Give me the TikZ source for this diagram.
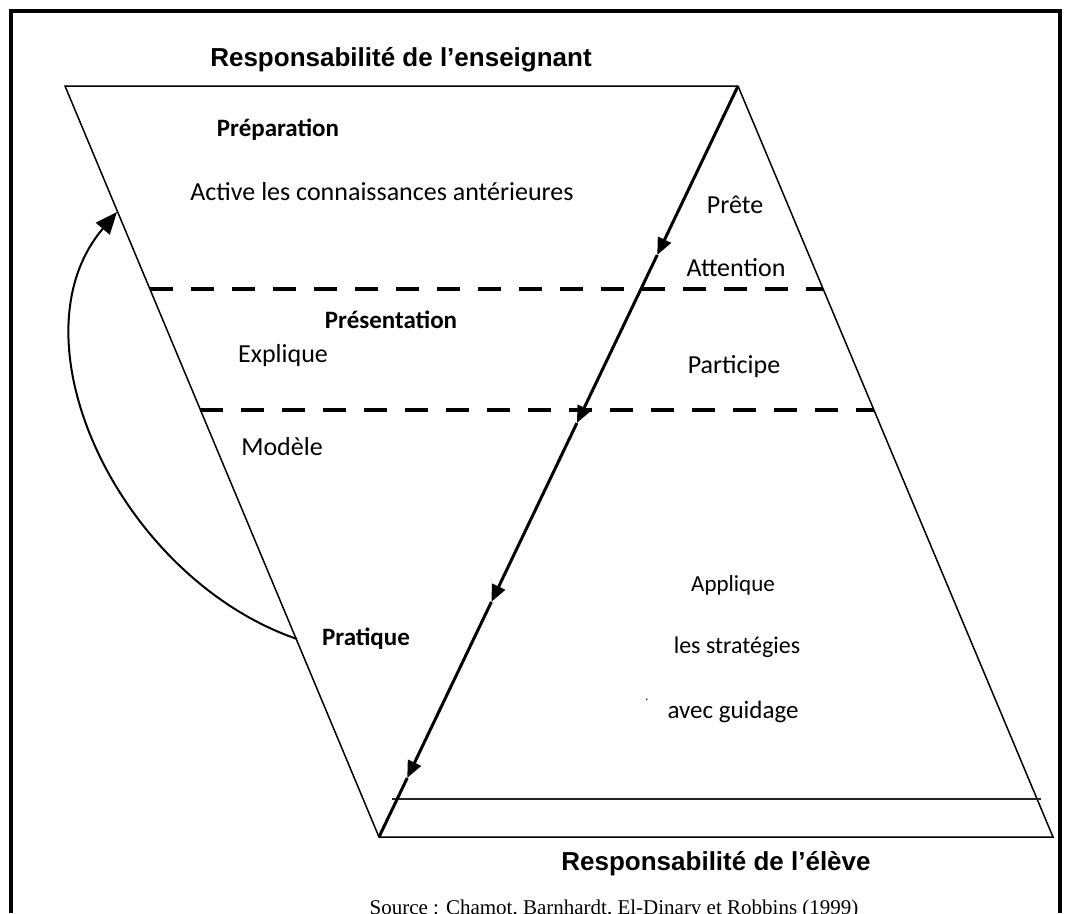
\documentclass[tikz,border=0pt]{standalone}
\usepackage{fontspec}
\setmainfont{Carlito}
\newfontfamily\arialfont{Liberation Sans}
\newfontfamily\timesfont{Liberation Serif}
\usetikzlibrary{arrows.meta,calc}
\begin{document}
\begin{tikzpicture}[x=1pt,y=-1pt,
  frameline/.style={line width=4pt},
  thinline/.style={line width=1.5pt},
  baseline799/.style={line width=2pt, black!85},
  dashline/.style={line width=4.8pt, dash pattern=on 23pt off 18pt},
  diagline/.style={line width=3pt},
  diagarrow/.style={line width=3pt, -{Triangle[length=17pt,width=14pt]}},
  curvearrow/.style={line width=2pt, -{Triangle[length=22pt,width=18pt]}},
  titletext/.style={font=\arialfont\bfseries\fontsize{26}{30}\selectfont, inner sep=0pt},
  bodytext/.style={font=\fontsize{26}{30}\selectfont, inner sep=0pt},
  headtext/.style={font=\bfseries\fontsize{25}{30}\selectfont, inner sep=0pt},
  sourcetext/.style={font=\timesfont\fontsize{21}{25}\selectfont, inner sep=0pt}]
\useasboundingbox (0,0) rectangle (1065,913);
% frame
\draw[frameline] (11,913) -- (11,11) -- (1060,11) -- (1060,913);
% vertices
\coordinate (TL) at (65,86);
\coordinate (TR) at (738,86);
\coordinate (BL) at (379,837);
\coordinate (BR) at (1053,837);
% outline
\draw[thinline] (TR) -- (TL) -- (BL) -- (BR) -- (TR);
% dashed lines
\coordinate (D1L) at ($(TL)!0.2703!(BL)$);
\coordinate (D1R) at ($(TR)!0.2703!(BR)$);
\coordinate (D2L) at ($(TL)!0.4314!(BL)$);
\coordinate (D2R) at ($(TR)!0.4314!(BR)$);
\draw[dashline] (D1L) -- (D1R);
\draw[dashline] (D2L) -- (D2R);
% line near the bottom
\coordinate (L1) at (392,799);
\coordinate (L2) at (1041,799);
\draw[baseline799] (L1) -- (L2);
% diagonal with arrows
\coordinate (A1) at ($(TR)!0.225!(BL)$);
\coordinate (A2) at ($(TR)!0.4487!(BL)$);
\coordinate (A3) at ($(TR)!0.687!(BL)$);
\coordinate (A4) at ($(TR)!0.9214!(BL)$);
\draw[diagarrow] (TR) -- (A1);
\draw[diagarrow] (A1) -- (A2);
\draw[diagarrow] (A2) -- (A3);
\draw[diagarrow] (A3) -- (A4);
\draw[diagline] (A4) -- (BL);
% curved arrow
\coordinate (C0) at (297,639);
\coordinate (C1) at (117,212);
\draw[curvearrow] (C0) .. controls (120,578) and (8,340) .. (C1);
% texts
\node[titletext] (tteach) at (401,60) {Responsabilité de l’enseignant};
\node[titletext] (tstud) at (716,864) {Responsabilité de l’élève};
\node[sourcetext] (src) at (614,909) {Source : Chamot, Barnhardt, El-Dinary et Robbins (1999)};
\node[headtext] (prep) at (278,130) {Préparation};
\node[bodytext] (active) at (382,192) {Active les connaissances antérieures};
\node[bodytext] (prete) at (735,205) {Prête};
\node[bodytext] (attn) at (736,268) {Attention};
\node[headtext] (pres) at (391,320) {Présentation};
\node[bodytext] (expl) at (283,356) {Explique};
\node[bodytext] (part) at (734,367) {Participe};
\node[bodytext] (mod) at (282,447) {Modèle};
\node[headtext] (prat) at (366,639) {Pratique};
\node[bodytext, font=\fontsize{23}{28}\selectfont] (appl) at (733,585) {Applique};
\node[bodytext, font=\fontsize{24}{28}\selectfont] (strat) at (737,647) {les stratégies};
\node[bodytext, font=\fontsize{12}{14}\selectfont] (dot) at (647,700) {.};
\node[bodytext, font=\fontsize{25}{28}\selectfont] (guid) at (733,712) {avec guidage};
\end{tikzpicture}
\end{document}
